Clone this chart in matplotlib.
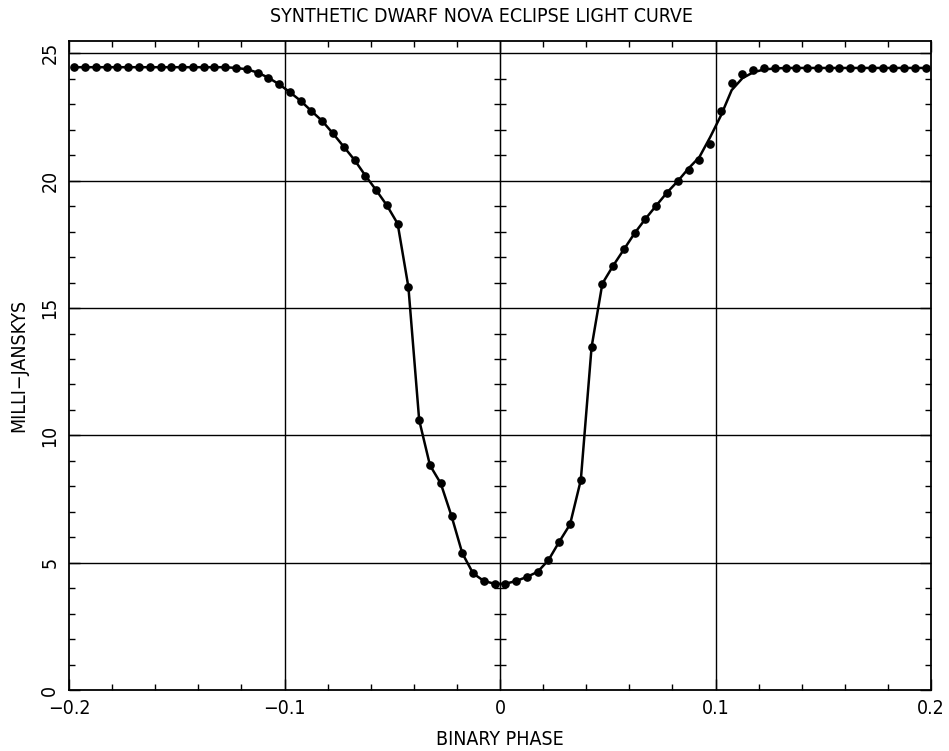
import numpy as np
import matplotlib
matplotlib.use("Agg")
import matplotlib.pyplot as plt
from matplotlib.ticker import MultipleLocator, NullFormatter

plt.rcParams['font.family'] = ['DejaVu Sans']
plt.rcParams['font.stretch'] = 'condensed'

# Binary phase of each observed point (bins centred on half steps)
phase = [
    -0.1975, -0.1925, -0.1875, -0.1825, -0.1775, -0.1725, -0.1675, -0.1625,
    -0.1575, -0.1525, -0.1475, -0.1425, -0.1375, -0.1325, -0.1275, -0.1225,
    -0.1175, -0.1125, -0.1075, -0.1025, -0.0975, -0.0925, -0.0875, -0.0825,
    -0.0775, -0.0725, -0.0675, -0.0625, -0.0575, -0.0525, -0.0475, -0.0425,
    -0.0375, -0.0325, -0.0275, -0.0225, -0.0175, -0.0125, -0.0075, -0.0025,
    0.0025, 0.0075, 0.0125, 0.0175, 0.0225, 0.0275, 0.0325, 0.0375,
    0.0425, 0.0475, 0.0525, 0.0575, 0.0625, 0.0675, 0.0725, 0.0775,
    0.0825, 0.0875, 0.0925, 0.0975, 0.1025, 0.1075, 0.1125, 0.1175,
    0.1225, 0.1275, 0.1325, 0.1375, 0.1425, 0.1475, 0.1525, 0.1575,
    0.1625, 0.1675, 0.1725, 0.1775, 0.1825, 0.1875, 0.1925, 0.1975,
]

# Observed flux (mJy), dots
flux_obs = [
    24.45, 24.45, 24.45, 24.45, 24.45, 24.45, 24.45, 24.45,
    24.45, 24.45, 24.45, 24.45, 24.45, 24.45, 24.45, 24.42,
    24.37, 24.24, 24.04, 23.78, 23.47, 23.13, 22.73, 22.34,
    21.85, 21.33, 20.81, 20.20, 19.63, 19.03, 18.31, 15.82,
    10.60, 8.83, 8.12, 6.84, 5.38, 4.59, 4.29, 4.18,
    4.18, 4.29, 4.45, 4.65, 5.11, 5.83, 6.51, 8.25,
    13.47, 15.96, 16.66, 17.30, 17.94, 18.50, 19.02, 19.53,
    19.98, 20.42, 20.80, 21.44, 22.75, 23.84, 24.20, 24.35,
    24.40, 24.42, 24.42, 24.42, 24.42, 24.42, 24.42, 24.42,
    24.42, 24.42, 24.42, 24.42, 24.42, 24.42, 24.42, 24.42,
]

# Model light curve (mJy), solid line
flux_model = [
    24.45, 24.45, 24.45, 24.45, 24.45, 24.45, 24.45, 24.45,
    24.45, 24.45, 24.45, 24.45, 24.45, 24.45, 24.45, 24.42,
    24.37, 24.24, 24.04, 23.78, 23.47, 23.13, 22.73, 22.34,
    21.85, 21.33, 20.81, 20.20, 19.63, 19.03, 18.31, 15.82,
    10.60, 8.83, 8.12, 6.84, 5.38, 4.59, 4.29, 4.18,
    4.18, 4.29, 4.45, 4.65, 5.11, 5.83, 6.51, 8.25,
    13.47, 15.96, 16.66, 17.30, 17.94, 18.50, 19.02, 19.53,
    19.98, 20.48, 20.92, 21.70, 22.55, 23.55, 24.02, 24.25,
    24.36, 24.40, 24.42, 24.42, 24.42, 24.42, 24.42, 24.42,
    24.42, 24.42, 24.42, 24.42, 24.42, 24.42, 24.42, 24.42,
]

x_ticks = [-0.2, -0.1, 0.0, 0.1, 0.2]
x_ticklabels = ["\u22120.2", "\u22120.1", "0", "0.1", "0.2"]
y_ticks = [0, 5, 10, 15, 20, 25]
y_ticklabels = ["0", "5", "10", "15", "20", "25"]
x_grid = [-0.1, 0.0, 0.1]
y_grid = [5, 10, 15, 20, 25]

fig = plt.figure(figsize=(9.49, 7.51), dpi=100)
ax = fig.add_axes([69 / 949, 1 - 690.3 / 751, 862 / 949, 649.6 / 751])

ax.set_xlim(-0.2, 0.2)
ax.set_ylim(0, 25.49)

for gx in x_grid:
    ax.axvline(gx, color='black', lw=1.0, zorder=1)
for gy in y_grid:
    ax.axhline(gy, color='black', lw=1.0, zorder=1)

ax.plot(phase, flux_model, color='black', lw=1.8, zorder=3)
ax.plot(phase, flux_obs, linestyle='none', marker='o', ms=5.2,
        color='black', zorder=4)

ax.set_xticks(x_ticks)
ax.set_xticklabels(x_ticklabels, fontsize=14)
ax.set_yticks(y_ticks)
ax.set_yticklabels(y_ticklabels, fontsize=14, rotation=90, va='center')
ax.xaxis.set_minor_locator(MultipleLocator(0.02))
ax.yaxis.set_minor_locator(MultipleLocator(1))
ax.tick_params(which='both', direction='in', top=True, right=True,
               color='black', width=1.0)
ax.tick_params(which='major', length=8, pad=6)
ax.tick_params(axis='y', which='major', pad=7)
ax.tick_params(which='minor', length=4)

for s in ax.spines.values():
    s.set_linewidth(1.3)

# tick marks along the zero-phase line
sec = ax.secondary_yaxis(0.5)
sec.spines['left'].set_visible(False)
sec.yaxis.set_major_locator(MultipleLocator(5))
sec.yaxis.set_minor_locator(MultipleLocator(1))
sec.yaxis.set_major_formatter(NullFormatter())
sec.tick_params(which='both', direction='inout', length=8, width=1.0)
sec.tick_params(which='major', length=0)

ax.set_xlabel("BINARY PHASE", fontsize=14, labelpad=9)
ax.set_ylabel("MILLI\u2212JANSKYS", fontsize=14, labelpad=9)
fig.text(481 / 949, 1 - 16 / 751, "SYNTHETIC DWARF NOVA ECLIPSE LIGHT CURVE",
         ha='center', va='center', fontsize=14)

fig.savefig("out.png", dpi=100)
